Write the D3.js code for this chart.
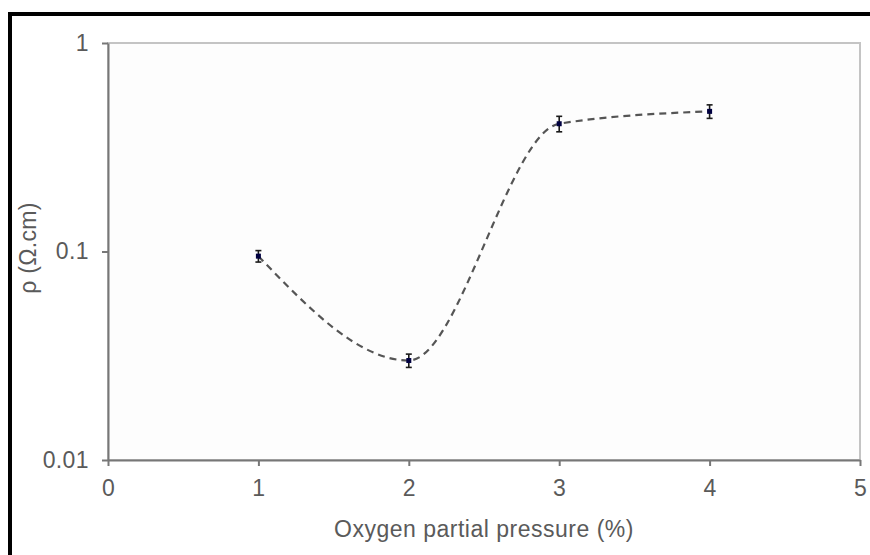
<!DOCTYPE html>
<html>
<head>
<meta charset="utf-8">
<script src="https://cdn.jsdelivr.net/npm/d3@7"></script>
<style>
  html, body { margin: 0; padding: 0; background: #ffffff; }
  svg { display: block; }
  text { font-family: "Liberation Sans", Arial, sans-serif; fill: #5a5a5a; }
</style>
</head>
<body>
<svg id="chart" width="870" height="555"></svg>
<script>
// ---- data ----
const oxygen = [1, 2, 3, 4];                       // oxygen partial pressure (%)
const resistivity = [0.095, 0.030, 0.41, 0.47];    // ρ (Ω.cm)
const errors = [0.006, 0.0022, 0.035, 0.035];      // error bar half-widths
const xTicks = [0, 1, 2, 3, 4, 5];
const yTicks = [0.01, 0.1, 1];
const yTickLabels = ["0.01", "0.1", "1"];
const xTitle = "Oxygen partial pressure (%)";
const yTitle = "ρ (Ω.cm)";

const svg = d3.select("#chart");
const W = 870, H = 555;
const plot = { left: 108, top: 43, right: 860, bottom: 460 };
const FS = 23;

// outer frame (black, partially cropped)
svg.append("rect").attr("x", 10).attr("y", 14).attr("width", W + 20).attr("height", H + 20)
  .attr("fill", "#ffffff").attr("stroke", "#000").attr("stroke-width", 4);

const x = d3.scaleLinear().domain([0, 5]).range([plot.left, plot.right]);
const y = d3.scaleLog().domain([0.01, 1]).range([plot.bottom, plot.top]);

// plot area
svg.append("rect").attr("x", plot.left).attr("y", plot.top)
  .attr("width", plot.right - plot.left).attr("height", plot.bottom - plot.top)
  .attr("fill", "#fdfdfd").attr("stroke", "#c4c4c4").attr("stroke-width", 2);

// axes
const xAxis = d3.axisBottom(x).tickValues(xTicks).tickFormat(d3.format("d"))
  .tickSizeInner(6).tickSizeOuter(0).tickPadding(14);
const gx = svg.append("g").attr("transform", `translate(0,${plot.bottom})`).call(xAxis);
const yAxis = d3.axisLeft(y).tickValues(yTicks).tickFormat((d, i) => yTickLabels[i])
  .tickSizeInner(6).tickSizeOuter(0).tickPadding(13);
const gy = svg.append("g").attr("transform", `translate(${plot.left},0)`).call(yAxis);

[gx, gy].forEach(g => {
  g.select(".domain").attr("stroke", "#777").attr("stroke-width", 2);
  g.selectAll(".tick line").attr("stroke", "#777").attr("stroke-width", 2);
  g.selectAll(".tick text").attr("font-size", FS).attr("fill", "#5a5a5a")
    .attr("letter-spacing", "0.4px")
    .attr("font-family", "Liberation Sans, Arial, sans-serif");
});

// titles
svg.append("text").attr("x", (plot.left + plot.right) / 2).attr("y", 537)
  .attr("text-anchor", "middle").attr("font-size", FS).attr("letter-spacing", "0.5px").text(xTitle);
svg.append("text").attr("transform", "translate(36,248) rotate(-90)")
  .attr("text-anchor", "middle").attr("font-size", FS).attr("letter-spacing", "0.3px").text(yTitle);

// smoothed dashed line
const pts = oxygen.map((d, i) => [x(d), y(resistivity[i])]);
svg.append("path").attr("d", d3.line().curve(d3.curveMonotoneX)(pts))
  .attr("fill", "none").attr("stroke", "#555").attr("stroke-width", 2.2)
  .attr("stroke-dasharray", "7,5");

// error bars
const eb = svg.append("g").attr("stroke", "#1a1a1a").attr("stroke-width", 1.6);
oxygen.forEach((d, i) => {
  const cx = x(d), lo = y(resistivity[i] - errors[i]), hi = y(resistivity[i] + errors[i]);
  eb.append("line").attr("x1", cx).attr("x2", cx).attr("y1", lo).attr("y2", hi);
  eb.append("line").attr("x1", cx - 3).attr("x2", cx + 3).attr("y1", lo).attr("y2", lo);
  eb.append("line").attr("x1", cx - 3).attr("x2", cx + 3).attr("y1", hi).attr("y2", hi);
});

// markers
svg.append("g").selectAll("rect").data(oxygen).join("rect")
  .attr("x", d => x(d) - 2.5).attr("y", (d, i) => y(resistivity[i]) - 2.5)
  .attr("width", 5).attr("height", 5).attr("fill", "#000040");
</script>
</body>
</html>
